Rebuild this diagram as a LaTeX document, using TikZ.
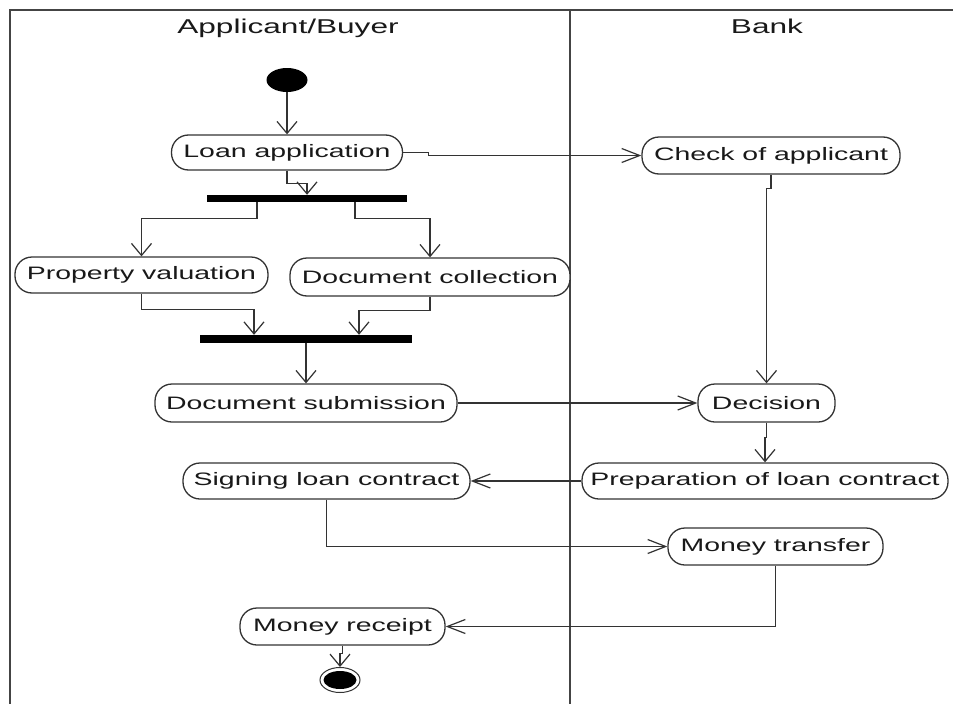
\documentclass[tikz,border=0pt]{standalone}
\usepackage{fontspec}
\setmainfont{Liberation Sans}[FakeStretch=1.58]
\usetikzlibrary{arrows.meta,shapes.geometric}
\definecolor{linegray}{HTML}{333333}
\definecolor{lanegray}{HTML}{444444}
\begin{document}
\begin{tikzpicture}[x=1pt,y=-1pt,
  act/.style={draw=linegray, line width=1.3pt, rounded corners=17pt, inner sep=0pt,
    text=black!90, fill=white, font=\fontsize{18}{21}\selectfont},
  flow/.style={draw=linegray, line width=1.2pt},
  varrow/.style={flow, -{Straight Barb[length=12pt,width=20pt]}},
  harrow/.style={flow, -{Straight Barb[length=18pt,width=14pt]}},
  syncbar/.style={fill=black, draw=none, inner sep=0pt},
  lane/.style={draw=lanegray, line width=2pt},
  lanetitle/.style={font=\fontsize{20}{23}\selectfont, text=black!90, anchor=base}
]
\useasboundingbox[fill=white] (0,0) rectangle (953,704);

% swimlane frame
\draw[lane] (10,704) -- (10,10) -- (953,10);
\draw[lane] (570,10) -- (570,704);
\node[lanetitle] (laneA) at (288,33) {Applicant/Buyer};
\node[lanetitle] (laneB) at (767,33) {Bank};

% initial and final states
\node[ellipse, fill=black, inner sep=0pt, minimum width=41pt, minimum height=24pt] (start) at (287,80) {};
\node[ellipse, draw=linegray, line width=1pt, fill=white, inner sep=0pt, minimum width=40pt, minimum height=25pt] (stop) at (340,680) {};
\node[ellipse, fill=black, inner sep=0pt, minimum width=33pt, minimum height=18pt] (stopdot) at (stop.center) {};

% activities
\node[act, minimum width=231pt, minimum height=35pt] (la) at (287,152.5) {Loan application};
\node[act, minimum width=258pt, minimum height=37pt] (ca) at (771,155.5) {Check of applicant};
\node[act, minimum width=253pt, minimum height=36pt] (pv) at (141.5,275) {Property valuation};
\node[act, minimum width=280pt, minimum height=38pt] (dc) at (430,277) {Document collection};
\node[act, minimum width=302pt, minimum height=38pt] (ds) at (306,403) {Document submission};
\node[act, minimum width=137pt, minimum height=38pt] (de) at (766.5,403) {Decision};
\node[act, minimum width=366pt, minimum height=36pt] (pl) at (765,481) {Preparation of loan contract};
\node[act, minimum width=287pt, minimum height=36pt] (sl) at (326.5,481) {Signing loan contract};
\node[act, minimum width=215pt, minimum height=37pt] (mt) at (775.5,546.5) {Money transfer};
\node[act, minimum width=205pt, minimum height=37pt] (mr) at (342.5,626.5) {Money receipt};

% fork and join bars
\node[syncbar, minimum width=200pt, minimum height=7pt] (fork) at (307,198.5) {};
\node[syncbar, minimum width=212pt, minimum height=8pt] (join) at (306,339) {};

% control flows
\draw[varrow] (start.south) -- (la.north);
\draw[varrow] (la.south) -- ++(0,13) -| (fork.north);
\draw[harrow] (la.east) -- ++(25,0) |- (ca.west);
\draw[varrow] ([xshift=-50pt]fork.south) -- ++(0,16) -| (pv.north);
\draw[varrow] ([xshift=48pt]fork.south) -- ++(0,16) -| (dc.north);
\draw[varrow] (pv.south) -- ++(0,16) -| ([xshift=-52pt]join.north);
\draw[varrow] (dc.south) -- ++(0,14) -| ([xshift=53pt]join.north);
\draw[varrow] (join.south) -- (ds.north);
\draw[harrow] (ds.east) -- (de.west);
\draw[varrow] (ca.south) -- ++(0,14) -| (de.north);
\draw[varrow] (de.south) -- ++(0,15) -| (pl.north);
\draw[harrow] (pl.west) -- (sl.east);
\draw[harrow] (sl.south) |- (mt.west);
\draw[harrow] (mt.south) |- (mr.east);
\draw[varrow] (mr.south) -- ++(0,8) -| (stop.north);
\end{tikzpicture}
\end{document}
